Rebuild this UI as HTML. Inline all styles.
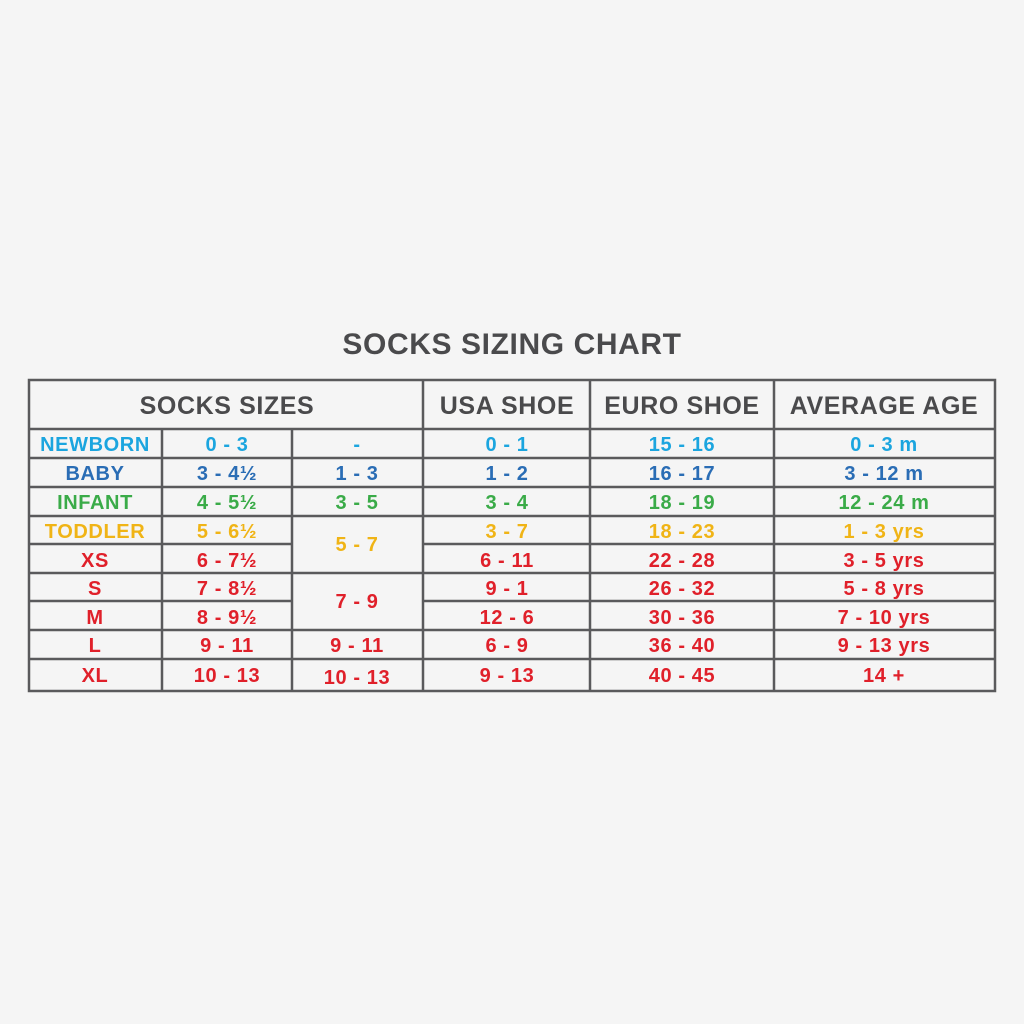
<!DOCTYPE html>
<html><head><meta charset="utf-8"><style>
html,body{margin:0;padding:0;background:#f5f5f5;}
svg{display:block;}
text{font-family:"Liberation Sans",sans-serif;font-weight:bold;text-anchor:middle;letter-spacing:0.6px;}
</style></head><body>
<svg width="1024" height="1024" viewBox="0 0 1024 1024">
<rect width="1024" height="1024" fill="#f5f5f5"/>
<text x="512" y="354" font-size="30" fill="#4a4a4c">SOCKS SIZING CHART</text>
<g stroke="#5a5a5c" stroke-width="2.5" fill="none">
<rect x="29" y="380" width="966" height="311"/>
<line x1="29" y1="429" x2="995" y2="429"/>
<line x1="423" y1="380" x2="423" y2="691"/>
<line x1="590" y1="380" x2="590" y2="691"/>
<line x1="774" y1="380" x2="774" y2="691"/>
<line x1="162" y1="429" x2="162" y2="691"/>
<line x1="292" y1="429" x2="292" y2="691"/>
<line x1="29" y1="458" x2="995" y2="458"/>
<line x1="29" y1="487" x2="995" y2="487"/>
<line x1="29" y1="516" x2="995" y2="516"/>
<line x1="29" y1="544" x2="292" y2="544"/><line x1="423" y1="544" x2="995" y2="544"/>
<line x1="29" y1="573" x2="995" y2="573"/>
<line x1="29" y1="601" x2="292" y2="601"/><line x1="423" y1="601" x2="995" y2="601"/>
<line x1="29" y1="630" x2="995" y2="630"/>
<line x1="29" y1="659" x2="995" y2="659"/>
</g>
<g font-size="25" fill="#4a4a4c">
<text x="227" y="414">SOCKS SIZES</text>
<text x="507" y="414">USA SHOE</text>
<text x="682" y="414">EURO SHOE</text>
<text x="884" y="414">AVERAGE AGE</text>
</g>
<g font-size="20">
<g fill="#1ba5df"><text x="95" y="451">NEWBORN</text><text x="227" y="451">0 - 3</text><text x="357" y="451">-</text><text x="507" y="451">0 - 1</text><text x="682" y="451">15 - 16</text><text x="884" y="451">0 - 3 m</text></g>
<g fill="#2a6db5"><text x="95" y="480">BABY</text><text x="227" y="480">3 - 4½</text><text x="357" y="480">1 - 3</text><text x="507" y="480">1 - 2</text><text x="682" y="480">16 - 17</text><text x="884" y="480">3 - 12 m</text></g>
<g fill="#3aab48"><text x="95" y="509">INFANT</text><text x="227" y="509">4 - 5½</text><text x="357" y="509">3 - 5</text><text x="507" y="509">3 - 4</text><text x="682" y="509">18 - 19</text><text x="884" y="509">12 - 24 m</text></g>
<g fill="#f0b416"><text x="95" y="538">TODDLER</text><text x="227" y="538">5 - 6½</text><text x="357" y="551">5 - 7</text><text x="507" y="538">3 - 7</text><text x="682" y="538">18 - 23</text><text x="884" y="538">1 - 3 yrs</text></g>
<g fill="#e0202a">
<text x="95" y="567">XS</text><text x="227" y="567">6 - 7½</text><text x="507" y="567">6 - 11</text><text x="682" y="567">22 - 28</text><text x="884" y="567">3 - 5 yrs</text>
<text x="95" y="595">S</text><text x="227" y="595">7 - 8½</text><text x="357" y="608">7 - 9</text><text x="507" y="595">9 - 1</text><text x="682" y="595">26 - 32</text><text x="884" y="595">5 - 8 yrs</text>
<text x="95" y="624">M</text><text x="227" y="624">8 - 9½</text><text x="507" y="624">12 - 6</text><text x="682" y="624">30 - 36</text><text x="884" y="624">7 - 10 yrs</text>
<text x="95" y="652">L</text><text x="227" y="652">9 - 11</text><text x="357" y="652">9 - 11</text><text x="507" y="652">6 - 9</text><text x="682" y="652">36 - 40</text><text x="884" y="652">9 - 13 yrs</text>
<text x="95" y="682">XL</text><text x="227" y="682">10 - 13</text><text x="357" y="684">10 - 13</text><text x="507" y="682">9 - 13</text><text x="682" y="682">40 - 45</text><text x="884" y="682">14 +</text>
</g>
</g>
</svg>
</body></html>
